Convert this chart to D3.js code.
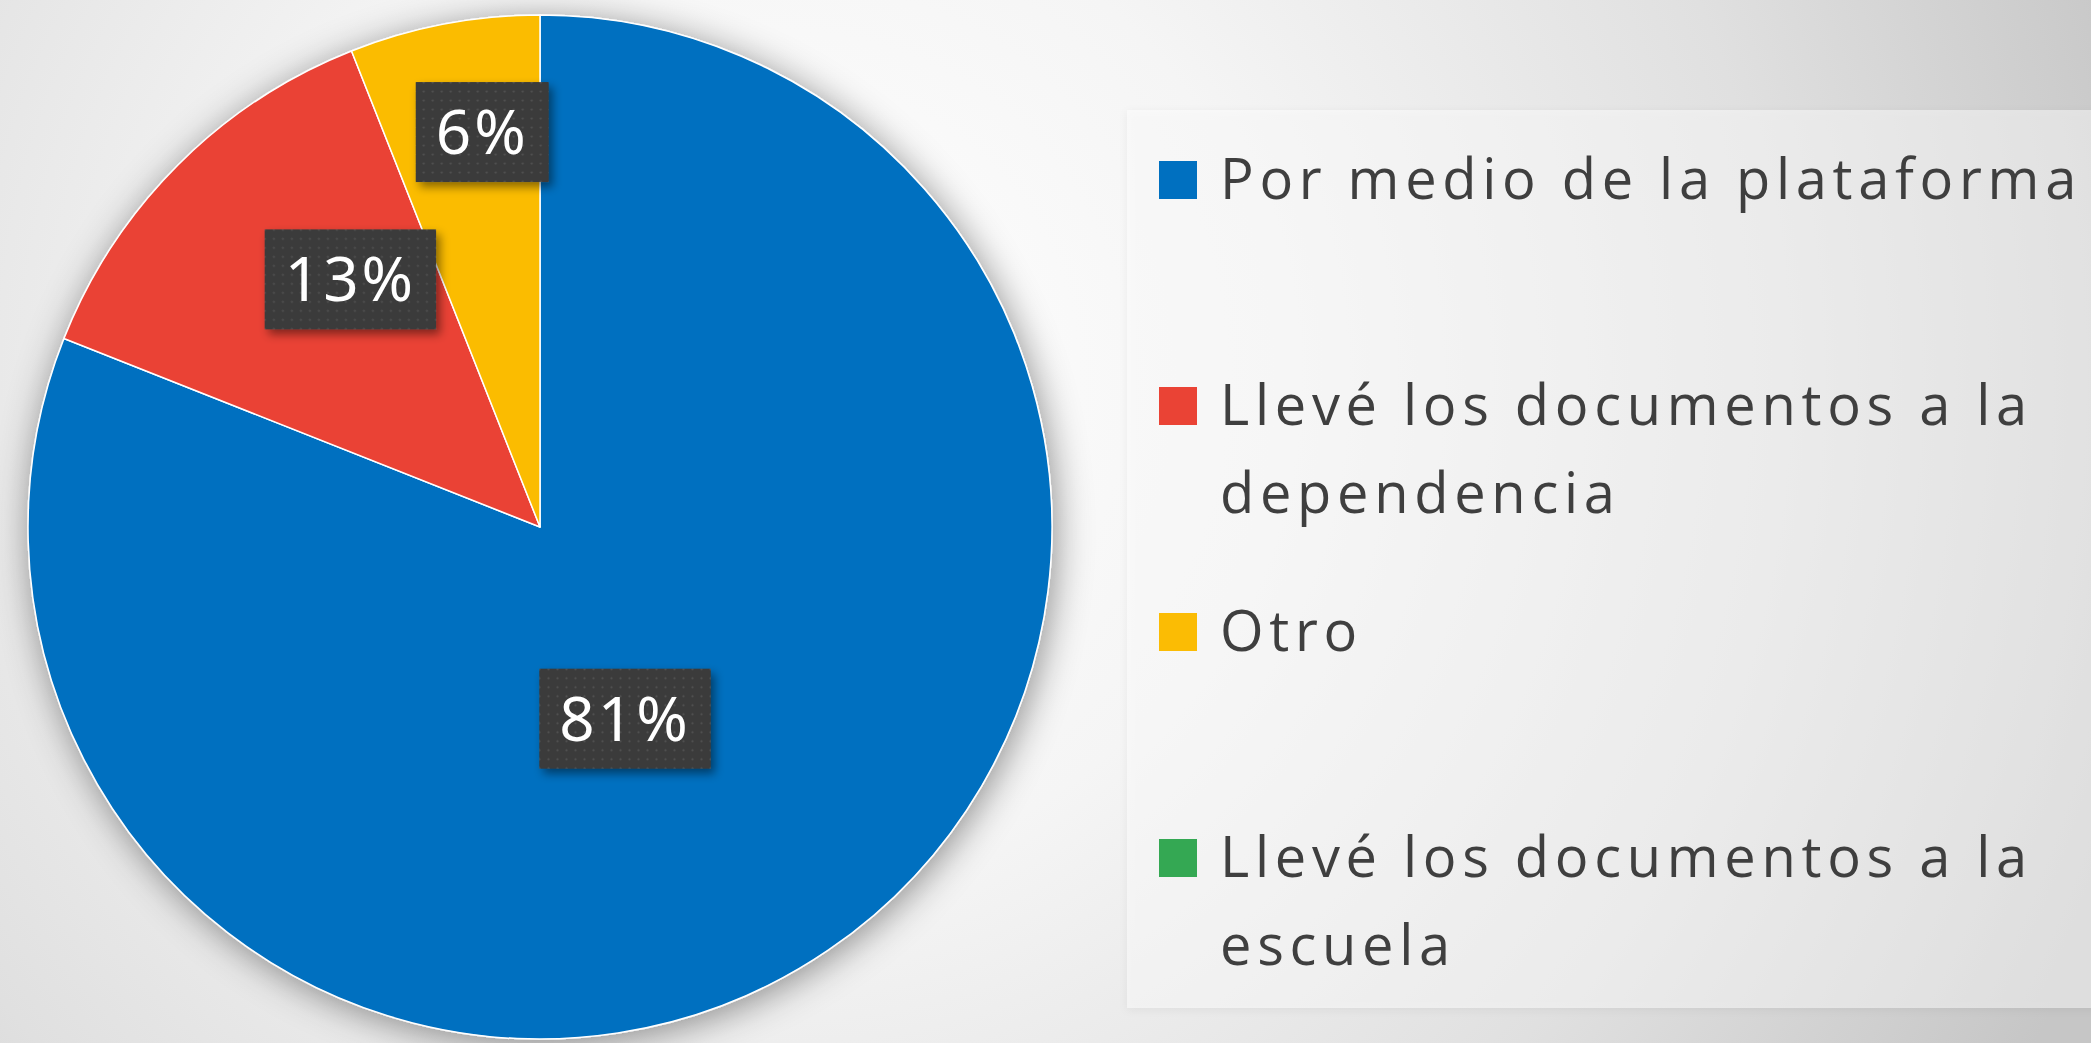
<!DOCTYPE html>
<html>
<head>
<meta charset="utf-8">
<script src="https://cdn.jsdelivr.net/npm/d3@7"></script>
<style>
  html, body { margin: 0; padding: 0; overflow: hidden; background: #ffffff; }
  svg { display: block; }
</style>
</head>
<body>
<svg id="chart" width="2091" height="1043"></svg>
<script>
// ---- data ----
const categories = [
  "Por medio de la plataforma",
  "Llevé los documentos a la dependencia",
  "Otro",
  "Llevé los documentos a la escuela"
];
const values = [81, 13, 6, 0];
const colors = ["#0070C0", "#EA4335", "#FBBC04", "#34A853"];

// ---- layout ----
const W = 2091, H = 1043;
const cx = 540, cy = 527, R = 512;
const labelRadius = [210, 312, 399, 0];
const labelNudge = [[-33, 18], [31, -27], [17, -3], [0, 0]];

const svg = d3.select("#chart");
const defs = svg.append("defs");

// background radial gradient
const bg = defs.append("radialGradient").attr("id", "bgGrad")
  .attr("gradientUnits", "userSpaceOnUse")
  .attr("cx", 780).attr("cy", 380).attr("r", 1420);
bg.append("stop").attr("offset", 0).attr("stop-color", "#ffffff");
bg.append("stop").attr("offset", 0.35).attr("stop-color", "#f5f5f5");
bg.append("stop").attr("offset", 0.7).attr("stop-color", "#e0e0e0");
bg.append("stop").attr("offset", 1).attr("stop-color", "#c6c6c6");

// shadows
const pieShadow = defs.append("filter").attr("id", "pieShadow")
  .attr("x", "-20%").attr("y", "-20%").attr("width", "140%").attr("height", "140%");
pieShadow.append("feDropShadow").attr("dx", 3).attr("dy", 5)
  .attr("stdDeviation", 18).attr("flood-color", "#000").attr("flood-opacity", 0.42);

const boxShadow = defs.append("filter").attr("id", "boxShadow")
  .attr("x", "-30%").attr("y", "-30%").attr("width", "160%").attr("height", "160%");
boxShadow.append("feDropShadow").attr("dx", 4).attr("dy", 5)
  .attr("stdDeviation", 5).attr("flood-color", "#000").attr("flood-opacity", 0.45);

const panelShadow = defs.append("filter").attr("id", "panelShadow")
  .attr("x", "-10%").attr("y", "-10%").attr("width", "120%").attr("height", "120%");
panelShadow.append("feDropShadow").attr("dx", 0).attr("dy", 2)
  .attr("stdDeviation", 4).attr("flood-color", "#000").attr("flood-opacity", 0.12);

// dotted texture for the label boxes
const pat = defs.append("pattern").attr("id", "dots")
  .attr("patternUnits", "userSpaceOnUse").attr("width", 9).attr("height", 9);
pat.append("rect").attr("width", 9).attr("height", 9).attr("fill", "#3a3a3a");
pat.append("circle").attr("cx", 4.5).attr("cy", 4.5).attr("r", 1.1)
  .attr("fill", "rgba(255,255,255,0.13)");

svg.append("rect").attr("width", W).attr("height", H).attr("fill", "url(#bgGrad)");

// legend panel
svg.append("rect")
  .attr("x", 1127).attr("y", 110).attr("width", W - 1127 + 20).attr("height", 898)
  .attr("fill", "rgba(255,255,255,0.45)")
  .attr("filter", "url(#panelShadow)");

// ---- pie ----
const pie = d3.pie().sort(null).value(d => d.value).startAngle(0).endAngle(2 * Math.PI);
const data = categories.map((c, i) => ({ name: c, value: values[i], color: colors[i], i }));
const arcs = pie(data);
const arc = d3.arc().innerRadius(0).outerRadius(R);

const g = svg.append("g").attr("transform", `translate(${cx},${cy})`);
g.append("g").attr("filter", "url(#pieShadow)")
  .selectAll("path").data(arcs.filter(a => a.data.value > 0)).join("path")
  .attr("d", arc)
  .attr("fill", d => d.data.color)
  .attr("stroke", "#ffffff").attr("stroke-width", 1.5).attr("stroke-linejoin", "round");

// data labels
const labels = g.append("g");
arcs.filter(a => a.data.value > 0).forEach(a => {
  const i = a.data.i;
  const la = d3.arc().innerRadius(labelRadius[i]).outerRadius(labelRadius[i]);
  const [x0, y0] = la.centroid(a);
  const x = x0 + labelNudge[i][0], y = y0 + labelNudge[i][1];
  const lg = labels.append("g").attr("transform", `translate(${x},${y})`);
  const box = lg.append("rect").attr("fill", "url(#dots)").attr("filter", "url(#boxShadow)");
  const t = lg.append("text")
    .attr("text-anchor", "middle")
    .attr("y", 22)
    .attr("fill", "#ffffff")
    .attr("font-family", "'Noto Sans', 'Open Sans', sans-serif")
    .attr("font-weight", 400)
    .attr("font-size", 62)
    .attr("letter-spacing", 3)
    .text(d3.format("d")(a.data.value) + "%");
  const w = t.node().getComputedTextLength() + 40;
  box.attr("x", -w / 2).attr("y", -50).attr("width", w).attr("height", 100);
});

// ---- legend ----
const legX = 1159, legTextX = 1220, legY0 = 199, legStep = 226, sq = 38;
const lineH = 88, maxW = 900;
const legend = svg.append("g");
data.forEach((d, i) => {
  const y = legY0 + i * legStep;
  legend.append("rect")
    .attr("x", legX).attr("y", y - sq).attr("width", sq).attr("height", sq)
    .attr("fill", d.color);
  const t = legend.append("text")
    .attr("x", legTextX).attr("y", y)
    .attr("fill", "#3f3f3f")
    .attr("font-family", "'Open Sans', 'Noto Sans', sans-serif")
    .attr("font-size", 56)
    .attr("letter-spacing", 5.7);
  // word wrap
  const words = d.name.split(" ");
  let line = [], lineNo = 0;
  let ts = t.append("tspan").attr("x", legTextX).attr("y", y);
  words.forEach(w => {
    line.push(w);
    ts.text(line.join(" "));
    if (ts.node().getComputedTextLength() > maxW && line.length > 1) {
      line.pop();
      ts.text(line.join(" "));
      line = [w];
      lineNo++;
      ts = t.append("tspan").attr("x", legTextX).attr("y", y + lineNo * lineH).text(w);
    }
  });
});
</script>
</body>
</html>
